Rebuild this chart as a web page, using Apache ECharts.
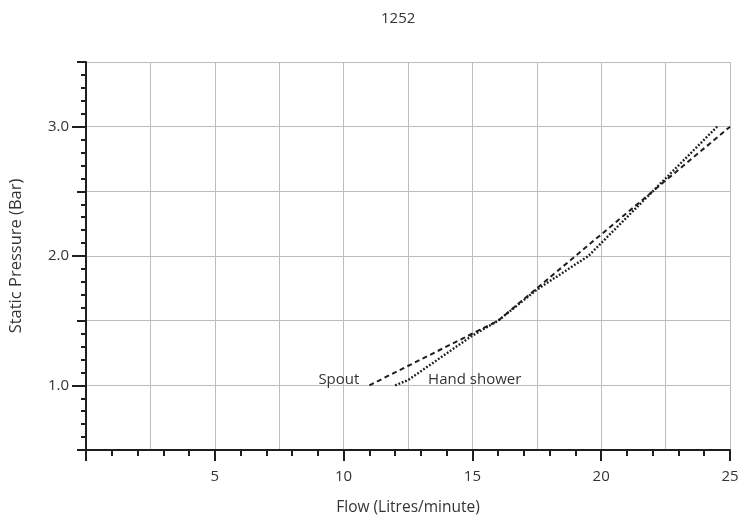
<!DOCTYPE html>
<html><head><meta charset="utf-8">
<script src="https://cdn.jsdelivr.net/npm/echarts@6/dist/echarts.min.js"></script>
<style>html,body{margin:0;padding:0;background:#fff}#c{width:743px;height:521px}</style>
</head><body><div id="c"></div>
<script>
const titleText = '1252';
const xName = 'Flow (Litres/minute)';
const yName = 'Static Pressure (Bar)';
const xTickLabels = [5, 10, 15, 20, 25];
const yTickLabels = [1.0, 2.0, 3.0];
const spoutName = 'Spout';
const spoutFlow = [11, 16, 25];
const spoutPressure = [1.0, 1.5, 3.0];
const handName = 'Hand shower';
const handFlow = [12, 12.5, 15, 16, 17.5, 19.5, 24.5];
const handPressure = [1.0, 1.04, 1.385, 1.5, 1.74, 2.0, 3.0];

const font = '"Open Sans", Lato, sans-serif';
const ink = '#1e1e1e';
const txt = '#333';
const grid = '#bdbdbd';

const pairs = (xs, ys) => xs.map((x, i) => [x, ys[i]]);

const chart = echarts.init(document.getElementById('c'), null, {renderer: 'canvas'});
chart.setOption({
  animation: false,
  backgroundColor: '#fff',
  title: {text: titleText, left: 376, top: 6,
    textStyle: {fontFamily: font, fontSize: 15, fontWeight: 'normal', color: txt}},
  grid: {left: 86, right: 13, top: 62, bottom: 70, containLabel: false},
  xAxis: [
    {type: 'value', min: 0, max: 25, interval: 5,
      name: xName, nameLocation: 'middle', nameGap: 50,
      nameTextStyle: {fontFamily: font, fontSize: 15.5, color: txt},
      axisLine: {show: true, lineStyle: {color: ink, width: 2}},
      axisTick: {show: true, length: 11, lineStyle: {color: ink, width: 2}},
      minorTick: {show: true, splitNumber: 5, length: 6, lineStyle: {color: ink, width: 2}},
      axisLabel: {customValues: xTickLabels, margin: 19, fontFamily: font, fontSize: 15, color: txt},
      splitLine: {show: false}},
    {type: 'value', min: 0, max: 25, interval: 2.5, position: 'bottom',
      axisLine: {show: false}, axisTick: {show: false}, axisLabel: {show: false},
      splitLine: {show: true, lineStyle: {color: grid, width: 1}}}
  ],
  yAxis: [
    {type: 'value', min: 0.5, max: 3.5, interval: 0.5,
      name: yName, nameLocation: 'middle', nameGap: 61,
      nameTextStyle: {fontFamily: font, fontSize: 16.5, color: txt},
      axisLine: {show: true, lineStyle: {color: ink, width: 2}},
      axisTick: {show: true, length: 9, lineStyle: {color: ink, width: 2}},
      minorTick: {show: true, splitNumber: 5, length: 5, lineStyle: {color: ink, width: 2}},
      axisLabel: {customValues: yTickLabels, margin: 17, fontFamily: font, fontSize: 15, color: txt,
        formatter: v => v.toFixed(1)},
      splitLine: {show: true, lineStyle: {color: grid, width: 1}}},
    {type: 'value', min: 0.5, max: 3.5, position: 'left',
      axisLine: {show: false},
      axisTick: {show: true, customValues: yTickLabels, length: 14, lineStyle: {color: ink, width: 2}},
      axisLabel: {show: false}, splitLine: {show: false}}
  ],
  series: [
    {name: spoutName, type: 'line', xAxisIndex: 0, yAxisIndex: 0, showSymbol: false, symbol: 'none',
      data: pairs(spoutFlow, spoutPressure),
      lineStyle: {color: ink, width: 2, type: [5, 3.5]},
      markPoint: {symbol: 'circle', symbolSize: 0, silent: true,
        label: {show: true, position: 'left', distance: 10, offset: [0, -6], formatter: spoutName,
          fontFamily: font, fontSize: 15, color: txt},
        data: [{coord: [spoutFlow[0], spoutPressure[0]]}]}},
    {name: handName, type: 'line', xAxisIndex: 0, yAxisIndex: 0, showSymbol: false, symbol: 'none',
      data: pairs(handFlow, handPressure),
      lineStyle: {color: ink, width: 2.4, type: [1.8, 1.8]},
      markPoint: {symbol: 'circle', symbolSize: 0, silent: true,
        label: {show: true, position: 'right', distance: 33, offset: [0, -6], formatter: handName,
          fontFamily: font, fontSize: 15, color: txt},
        data: [{coord: [handFlow[0], handPressure[0]]}]}}
  ]
});
</script></body></html>
